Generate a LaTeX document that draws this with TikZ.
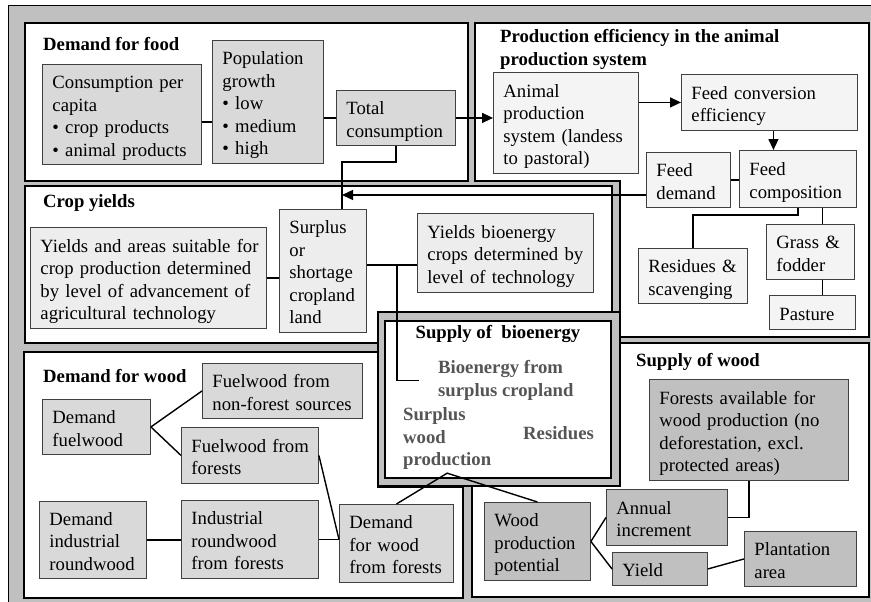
\documentclass[tikz,border=0pt]{standalone}
\usepackage{fontspec}
\setmainfont{Liberation Serif}
\usetikzlibrary{arrows.meta,calc}
\definecolor{bgg}{HTML}{C0C0C0}
\definecolor{fA}{HTML}{D9D9D9}
\definecolor{fB}{HTML}{EDEDED}
\definecolor{fC}{HTML}{F4F4F4}
\definecolor{fD}{HTML}{C0C0C0}
\definecolor{bio}{HTML}{555555}
\newcommand{\ml}[1]{\vbox{\vskip7pt\hbox{\begin{tabular}{@{}l@{}}#1\end{tabular}}}}
\newcommand{\fs}{\fontsize{18.7}{22.5}\selectfont}
\begin{document}
\begin{tikzpicture}[x=1pt,y=-1pt,
  panel/.style={draw=black, line width=2.4pt, fill=white},
  bx/.style={draw=black!75, line width=0.9pt, inner xsep=10pt, inner ysep=0pt, anchor=north west, align=left, font=\fs},
  ttl/.style={anchor=west, inner sep=0pt, font=\fs\bfseries},
  conn/.style={line width=1.4pt},
  arr/.style={conn, -{Triangle[length=11pt,width=10pt]}}
]
\useasboundingbox (0,0) rectangle (871,602);
\clip (0,0) rectangle (871,602);
% background and panels
\fill[bgg] (8,6) rectangle (890,620);
\draw[line width=1pt] (8,620) -- (8,6) -- (890,6);
\draw[line width=1.6pt, fill=bgg] (378,312) rectangle (620,486);
\draw[panel] (25,23) rectangle (468,181);
\draw[panel] (475,23) -- (869,23) -- (869,337) -- (620,337) -- (620,181) -- (475,181) -- cycle;
\draw[panel] (25,186) -- (612,186) -- (612,312) -- (378,312) -- (378,343) -- (25,343) -- cycle;
\draw[panel] (24,352) -- (378,352) -- (378,487) -- (463,487) -- (463,598) -- (24,598) -- cycle;
\draw[panel] (620,343) -- (869,343) -- (869,597) -- (472,597) -- (472,486) -- (620,486) -- cycle;
\draw[panel] (385,321) rectangle (611,478);

% titles
\node[ttl] (tFood) at (43,44) {Demand for food};
\node[ttl, align=left] (tProd) at (500,49.5) {Production efficiency in the animal\\production system};
\node[ttl] (tCrop) at (43,203) {Crop yields};
\node[ttl] (tWoodD) at (43,376) {Demand for wood};
\node[ttl] (tWoodS) at (636,362) {Supply of wood};
\node[ttl, anchor=center] (tBio) at (498,334) {Supply of\ \ bioenergy};

% demand for food
\node[bx, fill=fA, text width=139pt, minimum height=100pt] (cons) at (42,64) {\ml{Consumption per\\capita\\• crop products\\• animal products}};
\node[bx, fill=fA, text width=91pt, minimum height=123pt] (pop) at (212,40) {\ml{Population\\growth\\• low\\• medium\\• high}};
\node[bx, fill=fA, text width=99pt, minimum height=55pt] (total) at (336,90) {\ml{Total\\consumption}};

% production efficiency
\node[bx, fill=fC, text width=125pt, minimum height=101pt] (animal) at (493,72) {\ml{Animal\\production\\system (landess\\to pastoral)}};
\node[bx, fill=fC, text width=156pt, minimum height=56pt] (fce) at (681,74) {\ml{Feed conversion\\efficiency}};
\node[bx, fill=fC, text width=64pt, minimum height=55pt] (fdem) at (646,152) {\ml{Feed\\demand}};
\node[bx, fill=fC, text width=97pt, minimum height=57pt] (fcomp) at (739,150) {\ml{Feed\\composition}};
\node[bx, fill=fC, text width=89pt, minimum height=55pt] (resid) at (638,248) {\ml{Residues \&\\scavenging}};
\node[bx, fill=fC, text width=68pt, minimum height=55pt] (grass) at (766,224) {\ml{Grass \&\\fodder}};
\node[bx, fill=fC, text width=66pt, minimum height=34pt] (pasture) at (769,295) {\ml{Pasture}};

% crop yields
\node[bx, fill=fB, text width=216pt, minimum height=101pt] (yareas) at (30,227) {\ml{Yields and areas suitable for\\crop production determined\\by level of advancement of\\agricultural technology}};
\node[bx, fill=fB, text width=67pt, minimum height=123pt] (surplus) at (279,209) {\ml{Surplus\\or\\shortage\\cropland\\land}};
\node[bx, fill=fB, text width=156pt, minimum height=79pt] (ybio) at (417,213) {\ml{Yields bioenergy\\crops determined by\\level of technology}};

% supply of bioenergy
\node[ttl, align=left, text=bio, inner xsep=19pt] (bioCrop) at (419,380.5) {Bioenergy from\\surplus cropland};
\node[ttl, align=left, text=bio, inner ysep=3pt] (surpWood) at (403,439) {Surplus\\wood\\production};
\node[ttl, text=bio] (resBio) at (523,433) {Residues};

% demand for wood
\node[bx, fill=fA, text width=88pt, minimum height=55pt] (dfuel) at (42,399) {\ml{Demand\\fuelwood}};
\node[bx, fill=fA, text width=140pt, minimum height=55pt] (fnon) at (202,363) {\ml{Fuelwood from\\non-forest sources}};
\node[bx, fill=fA, text width=117pt, minimum height=56pt] (fforest) at (181,427) {\ml{Fuelwood from\\forests}};
\node[bx, fill=fA, text width=87pt, minimum height=77pt] (dind) at (39,501) {\ml{Demand\\industrial\\roundwood}};
\node[bx, fill=fA, text width=117pt, minimum height=78pt] (iround) at (181,500) {\ml{Industrial\\roundwood\\from forests}};
\node[bx, fill=fA, text width=94pt, minimum height=78pt] (dwf) at (339,504) {\ml{Demand\\for wood\\from forests}};

% supply of wood
\node[bx, fill=fD, text width=179pt, minimum height=101pt] (forests) at (649,379) {\ml{Forests available for\\wood production (no\\deforestation, excl.\\protected areas)}};
\node[bx, fill=fD, text width=101pt, minimum height=56pt] (annual) at (606,489) {\ml{Annual\\increment}};
\node[bx, fill=fD, text width=86pt, minimum height=78pt] (wpp) at (484,502) {\ml{Wood\\production\\potential}};
\node[bx, fill=fD, text width=75pt, minimum height=33pt] (yield) at (612,552) {\ml{Yield}};
\node[bx, fill=fD, text width=92pt, minimum height=55pt] (plant) at (744,531) {\ml{Plantation\\area}};

% connectors
\draw[conn] (cons.east |- 0,122) -- (pop.west |- 0,122);
\draw[conn] (pop.east |- total.west) -- (total.west);
\draw[arr] (total.east) -- (total.east -| animal.west);
\coordinate (jn) at (342,195);
\draw[conn] (total.south) -- ++(0,16) -| (jn) -- (jn |- surplus.north);
\draw[arr] (fdem.west |- jn) -- (jn);
\draw[arr] (animal.east |- fce.west) -- (fce.west);
\draw[arr] ([xshift=4pt]fce.south) -- ([xshift=4pt]fce.south |- fcomp.north);
\draw[conn] (fdem.east) -- (fdem.east -| fcomp.west);
\draw[conn] (fcomp.south) -- ++(0,7) -| (resid.north);
\draw[conn] ([xshift=24.5pt]fcomp.south) -- ([xshift=24.5pt]fcomp.south |- grass.north);
\draw[conn] ([xshift=12pt]grass.south) -- ([xshift=12pt]grass.south |- pasture.north);

\draw[conn] (yareas.east) -- (yareas.east -| surplus.west);
\draw[conn] (surplus.east |- 0,265) -- (ybio.west |- 0,265);
\coordinate (bj) at (397,265);
\draw[conn] (bj) |- (bioCrop.west);

\draw[conn] (dfuel.east) -- (fnon.west);
\draw[conn] (dfuel.east) -- (fforest.west);
\draw[conn] (dind.east) -- (dind.east -| iround.west);
\draw[conn] (iround.east) -- (iround.east -| dwf.west);
\draw[conn] (fforest.east) -- (iround.east -| dwf.west);

\draw[conn] (dwf.north) -- (surpWood.south) -- (wpp.north);
\draw[conn] (forests.south) |- (annual.east);
\draw[conn] (wpp.east) -- (annual.west);
\draw[conn] (wpp.east) -- (yield.west);
\draw[conn] (yield.east) -- (plant.west);
\end{tikzpicture}
\end{document}
